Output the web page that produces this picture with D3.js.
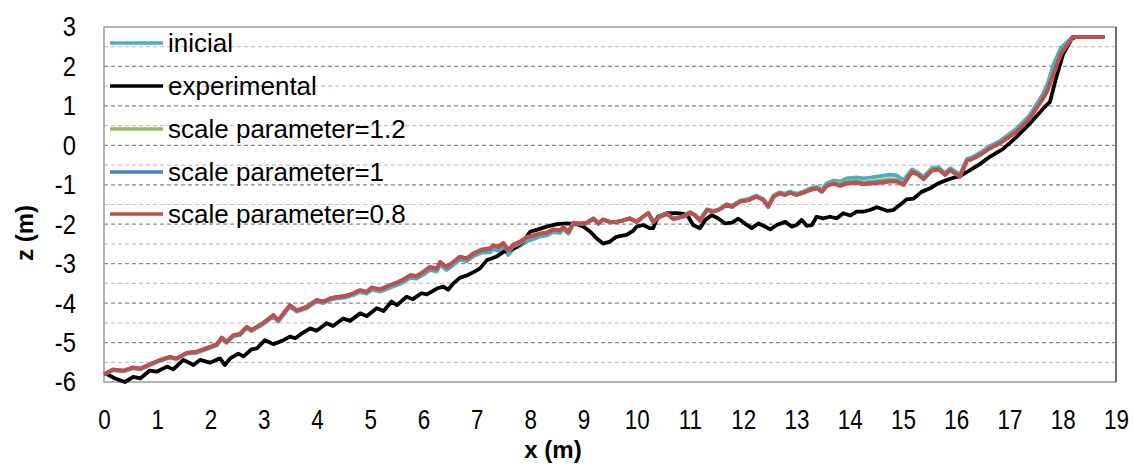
<!DOCTYPE html>
<html><head><meta charset="utf-8">
<script src="https://cdn.jsdelivr.net/npm/d3@7"></script>
<style>body{margin:0;background:#fff}</style>
</head><body>
<svg id="chart" width="1133" height="465"></svg>
<script>
// ---------- DATA ----------
const seriesNames = ["inicial","experimental","scale parameter=1.2","scale parameter=1","scale parameter=0.8"];
const seriesColors = ["#4BACC6","#000000","#9BBB59","#4F81BD","#C0504D"];
const xTicks = [0,1,2,3,4,5,6,7,8,9,10,11,12,13,14,15,16,17,18,19];
const yTicks = [-6,-5,-4,-3,-2,-1,0,1,2,3];

// x positions shared by the model runs (m)
const modelX = [0.00,0.17,0.36,0.55,0.68,0.86,1.05,1.24,1.36,1.55,
1.74,1.99,2.12,2.21,2.30,2.43,2.55,2.68,2.77,2.99,
3.18,3.27,3.49,3.62,3.81,3.99,4.12,4.24,4.37,4.52,
4.68,4.81,4.93,5.03,5.18,5.37,5.53,5.62,5.75,5.87,
6.00,6.12,6.25,6.31,6.43,6.56,6.68,6.81,6.93,7.09,
7.25,7.31,7.40,7.50,7.59,7.69,7.81,7.94,8.06,8.19,
8.31,8.44,8.56,8.62,8.72,8.81,8.94,9.06,9.19,9.28,
9.37,9.50,9.62,9.75,9.87,10.00,10.12,10.22,10.31,10.44,
10.57,10.69,10.87,11.00,11.09,11.19,11.32,11.44,11.54,11.69,
11.79,11.94,12.10,12.25,12.38,12.47,12.57,12.69,12.78,12.88,
13.00,13.13,13.26,13.38,13.48,13.57,13.70,13.82,13.94,14.13,
14.26,14.38,14.57,14.76,14.88,15.01,15.17,15.29,15.39,15.54,
15.67,15.79,15.89,15.98,16.07,16.20,16.29,16.38,16.50,16.63,
16.82,17.13,17.38,17.63,17.72,17.84,17.97,18.19,18.79];

const inicialZ = [-5.82,-5.70,-5.73,-5.65,-5.68,-5.57,-5.46,-5.38,-5.42,-5.28,
-5.26,-5.14,-5.07,-4.90,-5.01,-4.84,-4.81,-4.63,-4.71,-4.53,
-4.34,-4.47,-4.09,-4.22,-4.13,-3.96,-4.00,-3.92,-3.88,-3.86,
-3.80,-3.72,-3.76,-3.66,-3.71,-3.61,-3.53,-3.47,-3.36,-3.38,
-3.28,-3.16,-3.20,-3.03,-3.16,-3.03,-2.90,-2.94,-2.82,-2.72,
-2.71,-2.63,-2.67,-2.58,-2.78,-2.62,-2.55,-2.43,-2.38,-2.31,
-2.29,-2.20,-2.22,-2.13,-2.24,-2.00,-2.01,-1.98,-1.87,-1.99,
-1.89,-1.95,-1.95,-1.91,-1.86,-1.95,-1.81,-1.72,-1.93,-1.79,
-1.72,-1.85,-1.79,-1.69,-1.75,-1.88,-1.62,-1.66,-1.62,-1.49,
-1.53,-1.40,-1.36,-1.27,-1.36,-1.53,-1.27,-1.19,-1.23,-1.17,
-1.23,-1.17,-1.09,-1.05,-1.12,-0.96,-0.89,-0.92,-0.84,-0.81,
-0.84,-0.82,-0.78,-0.74,-0.76,-0.88,-0.61,-0.70,-0.80,-0.58,
-0.56,-0.70,-0.58,-0.66,-0.74,-0.35,-0.31,-0.24,-0.14,-0.02,
0.11,0.42,0.76,1.30,1.58,2.10,2.48,2.75,2.75];

const scale12Z = [-5.81,-5.69,-5.72,-5.64,-5.67,-5.56,-5.45,-5.37,-5.41,-5.27,
-5.24,-5.12,-5.05,-4.88,-4.99,-4.82,-4.79,-4.61,-4.69,-4.51,
-4.31,-4.44,-4.06,-4.19,-4.10,-3.93,-3.97,-3.89,-3.85,-3.83,
-3.77,-3.69,-3.73,-3.62,-3.67,-3.56,-3.48,-3.42,-3.31,-3.33,
-3.23,-3.11,-3.15,-2.98,-3.11,-2.98,-2.85,-2.89,-2.77,-2.67,
-2.64,-2.56,-2.60,-2.51,-2.69,-2.55,-2.48,-2.36,-2.31,-2.26,
-2.24,-2.16,-2.17,-2.09,-2.21,-1.97,-1.99,-1.97,-1.86,-1.98,
-1.88,-1.94,-1.94,-1.90,-1.85,-1.94,-1.81,-1.72,-1.94,-1.80,
-1.73,-1.86,-1.80,-1.70,-1.76,-1.90,-1.63,-1.67,-1.63,-1.50,
-1.55,-1.42,-1.38,-1.29,-1.38,-1.55,-1.29,-1.21,-1.25,-1.19,
-1.25,-1.19,-1.12,-1.08,-1.16,-1.01,-0.94,-0.99,-0.92,-0.90,
-0.94,-0.92,-0.89,-0.86,-0.87,-0.97,-0.66,-0.74,-0.84,-0.63,
-0.60,-0.74,-0.62,-0.70,-0.78,-0.38,-0.34,-0.28,-0.18,-0.06,
0.07,0.37,0.71,1.22,1.46,1.94,2.38,2.75,2.75];

const scale10Z = [-5.80,-5.69,-5.72,-5.64,-5.67,-5.56,-5.45,-5.37,-5.41,-5.27,
-5.24,-5.12,-5.05,-4.88,-4.99,-4.82,-4.79,-4.61,-4.69,-4.51,
-4.31,-4.44,-4.06,-4.19,-4.10,-3.93,-3.97,-3.89,-3.85,-3.83,
-3.76,-3.68,-3.72,-3.61,-3.66,-3.55,-3.47,-3.41,-3.30,-3.32,
-3.22,-3.10,-3.14,-2.97,-3.10,-2.97,-2.84,-2.88,-2.76,-2.66,
-2.63,-2.55,-2.59,-2.49,-2.67,-2.53,-2.46,-2.34,-2.30,-2.25,
-2.23,-2.15,-2.16,-2.08,-2.20,-1.97,-1.99,-1.97,-1.86,-1.98,
-1.88,-1.94,-1.94,-1.90,-1.85,-1.94,-1.81,-1.72,-1.94,-1.81,
-1.74,-1.87,-1.81,-1.71,-1.77,-1.91,-1.64,-1.68,-1.64,-1.51,
-1.56,-1.43,-1.39,-1.30,-1.39,-1.56,-1.30,-1.22,-1.26,-1.20,
-1.26,-1.20,-1.13,-1.09,-1.17,-1.02,-0.96,-1.02,-0.95,-0.93,
-0.97,-0.95,-0.93,-0.90,-0.90,-0.99,-0.67,-0.75,-0.85,-0.64,
-0.61,-0.75,-0.63,-0.71,-0.79,-0.39,-0.35,-0.29,-0.19,-0.07,
0.06,0.35,0.69,1.20,1.43,1.90,2.35,2.75,2.75];

const scale08Z = [-5.80,-5.68,-5.71,-5.63,-5.66,-5.55,-5.44,-5.36,-5.40,-5.26,
-5.23,-5.11,-5.04,-4.87,-4.98,-4.81,-4.78,-4.60,-4.68,-4.50,
-4.30,-4.43,-4.05,-4.18,-4.09,-3.92,-3.96,-3.88,-3.84,-3.82,
-3.75,-3.67,-3.71,-3.60,-3.65,-3.54,-3.46,-3.40,-3.29,-3.31,
-3.20,-3.08,-3.12,-2.95,-3.08,-2.95,-2.82,-2.86,-2.74,-2.64,
-2.61,-2.53,-2.57,-2.47,-2.65,-2.51,-2.44,-2.32,-2.28,-2.23,
-2.21,-2.13,-2.15,-2.07,-2.19,-1.96,-1.98,-1.96,-1.85,-1.98,
-1.88,-1.94,-1.94,-1.90,-1.85,-1.94,-1.81,-1.72,-1.94,-1.81,
-1.74,-1.87,-1.81,-1.71,-1.77,-1.91,-1.64,-1.68,-1.64,-1.51,
-1.56,-1.43,-1.39,-1.30,-1.39,-1.56,-1.30,-1.22,-1.26,-1.20,
-1.26,-1.20,-1.13,-1.09,-1.18,-1.03,-0.97,-1.03,-0.97,-0.95,
-0.99,-0.97,-0.95,-0.92,-0.92,-1.01,-0.67,-0.75,-0.86,-0.64,
-0.61,-0.75,-0.63,-0.71,-0.80,-0.39,-0.35,-0.29,-0.20,-0.08,
0.05,0.34,0.68,1.18,1.40,1.86,2.32,2.75,2.75];

// experimental profile (own x positions)
const expX = [0.00,0.05,0.21,0.39,0.55,0.68,0.86,0.99,1.18,1.30,
1.49,1.68,1.80,1.99,2.18,2.27,2.37,2.52,2.62,2.77,
2.87,3.02,3.18,3.37,3.49,3.59,3.68,3.87,3.99,4.18,
4.30,4.49,4.62,4.81,4.93,5.12,5.25,5.40,5.50,5.68,
5.80,5.96,6.06,6.25,6.37,6.46,6.56,6.68,6.81,6.93,
7.06,7.19,7.25,7.37,7.50,7.62,7.75,7.87,8.00,8.15,
8.31,8.50,8.69,8.88,9.00,9.13,9.25,9.37,9.50,9.62,
9.81,9.94,10.00,10.12,10.25,10.31,10.40,10.57,10.75,10.88,
10.97,11.06,11.19,11.29,11.41,11.54,11.66,11.79,11.91,12.04,
12.16,12.29,12.38,12.51,12.63,12.79,12.91,13.00,13.10,13.19,
13.29,13.38,13.50,13.63,13.76,13.88,14.01,14.13,14.26,14.38,
14.51,14.70,14.82,14.94,15.07,15.20,15.35,15.51,15.67,15.82,
15.98,16.07,16.26,16.45,16.63,16.88,17.13,17.38,17.63,17.76,
17.88,18.01,18.17,18.25,18.79];
const expZ = [-5.80,-5.80,-5.91,-6.00,-5.87,-5.91,-5.71,-5.74,-5.61,-5.68,
-5.44,-5.57,-5.44,-5.51,-5.40,-5.57,-5.40,-5.28,-5.35,-5.17,
-5.15,-4.94,-5.04,-4.94,-4.85,-4.89,-4.80,-4.64,-4.70,-4.51,
-4.58,-4.39,-4.45,-4.26,-4.33,-4.13,-4.20,-3.96,-4.05,-3.84,
-3.90,-3.75,-3.78,-3.63,-3.58,-3.66,-3.50,-3.36,-3.30,-3.22,
-3.12,-2.91,-2.88,-2.82,-2.70,-2.66,-2.57,-2.44,-2.19,-2.13,
-2.06,-2.00,-1.98,-2.00,-2.06,-2.19,-2.36,-2.49,-2.44,-2.32,
-2.27,-2.16,-2.06,-2.02,-2.10,-2.10,-1.81,-1.72,-1.72,-1.74,
-1.81,-2.02,-2.10,-1.89,-1.77,-1.86,-1.98,-1.96,-1.86,-1.99,
-2.10,-1.98,-2.04,-2.13,-2.02,-1.94,-2.06,-2.02,-1.89,-2.04,
-2.02,-1.81,-1.85,-1.81,-1.85,-1.72,-1.78,-1.68,-1.68,-1.64,
-1.57,-1.66,-1.64,-1.51,-1.37,-1.35,-1.18,-1.09,-0.96,-0.88,
-0.81,-0.78,-0.63,-0.47,-0.29,-0.09,0.21,0.55,0.93,1.10,
1.73,2.32,2.70,2.75,2.75];

// ---------- CHART ----------
const svg = d3.select("#chart");
const L = 104, R = 1116, T = 27, B = 382;
const x = d3.scaleLinear().domain([0,19]).range([L,R]);
const y = d3.scaleLinear().domain([-6,3]).range([B,T]);
const textFont = "'Liberation Sans',Arial,sans-serif";

// condense a text horizontally (reference uses a narrow face)
function condense(sel, factor) {
  sel.each(function() {
    const w = this.getComputedTextLength();
    d3.select(this).attr("textLength", w * factor).attr("lengthAdjust", "spacingAndGlyphs");
  });
}

// gridlines every 0.5
const gridVals = d3.range(-5.5, 3, 0.5);
svg.append("g").selectAll("line").data(gridVals).join("line")
  .attr("x1", L).attr("x2", R)
  .attr("y1", d => y(d)).attr("y2", d => y(d))
  .attr("stroke", d => Number.isInteger(d) ? "#8a8a8a" : "#c4c4c4")
  .attr("stroke-width", 1.2)
  .attr("stroke-dasharray", "4,3");

// plot border
svg.append("rect").attr("x", L).attr("y", T).attr("width", R-L).attr("height", B-T)
  .attr("fill", "none").attr("stroke", "#8c8c8c").attr("stroke-width", 1.3);
svg.append("line").attr("x1", R).attr("x2", R).attr("y1", T).attr("y2", B)
  .attr("stroke", "#6e6e6e").attr("stroke-width", 2);

// axes
const yAxis = svg.append("g").attr("transform", `translate(${L},0)`)
  .call(d3.axisLeft(y).tickValues(yTicks).tickSize(0).tickPadding(28).tickFormat(d3.format("d")));
const xAxis = svg.append("g").attr("transform", `translate(0,${B})`)
  .call(d3.axisBottom(x).tickValues(xTicks).tickSize(0).tickPadding(27).tickFormat(d3.format("d")));
[yAxis, xAxis].forEach(g => {
  g.select(".domain").remove();
  g.selectAll("text").attr("font-family", textFont).attr("font-size", 28).attr("fill", "#000");
});
yAxis.selectAll("text").text(d => d < 0 ? "-" + Math.abs(d) : d);
condense(yAxis.selectAll("text"), 0.85);
condense(xAxis.selectAll("text"), 0.8);

// axis titles
svg.append("text").attr("x", 553).attr("y", 458).attr("text-anchor", "middle")
  .attr("font-family", textFont).attr("font-weight", "bold").attr("font-size", 24).text("x (m)");
svg.append("text").attr("transform", "translate(33,233) rotate(-90)").attr("text-anchor", "middle")
  .attr("font-family", textFont).attr("font-weight", "bold").attr("font-size", 24).text("z (m)");

// lines
const line = d3.line().x(d => x(d[0])).y(d => y(d[1]));
const seriesData = [
  d3.zip(modelX, inicialZ),
  d3.zip(expX, expZ),
  d3.zip(modelX, scale12Z),
  d3.zip(modelX, scale10Z),
  d3.zip(modelX, scale08Z)
];
svg.append("g").selectAll("path").data(seriesData).join("path")
  .attr("d", line).attr("fill", "none")
  .attr("stroke", (d,i) => seriesColors[i])
  .attr("stroke-width", 3.8).attr("stroke-linejoin", "round");

// legend
const legendY = [43, 86, 129, 172, 214];
const lg = svg.append("g");
seriesNames.forEach((n, i) => {
  lg.append("line").attr("x1", 110).attr("x2", 163).attr("y1", legendY[i]).attr("y2", legendY[i])
    .attr("stroke", seriesColors[i]).attr("stroke-width", 3.5);
  lg.append("text").attr("x", 168).attr("y", legendY[i]).attr("dy", "0.35em")
    .attr("font-family", textFont).attr("font-size", 26).attr("fill", "#000").text(n);
});
</script>
</body></html>
